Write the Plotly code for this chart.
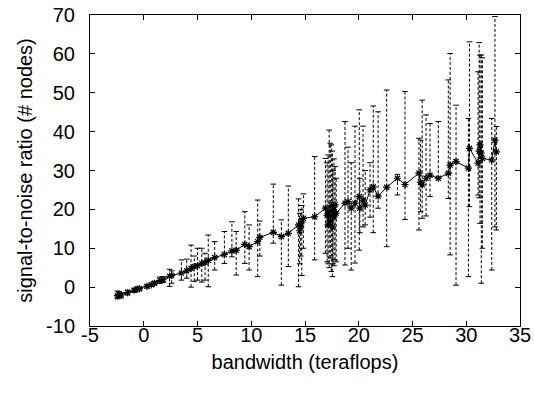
import plotly.graph_objects as go

# bandwidth (teraflops), mean signal-to-noise, lower and upper error bounds
bandwidth = [-2.45, -2.3, -2.1, -1.5, -0.9, -0.6, -0.4, 0.3, 0.7, 1.0, 1.5, 1.8, 2.4, 2.6,
             3.5, 4.0, 4.4, 4.7, 5.0, 5.4, 5.7, 6.0, 6.6, 7.5, 8.2, 8.6, 9.4, 9.8, 10.6, 10.8,
             12.05, 12.8, 13.45, 14.4, 14.5, 14.6, 14.7, 14.85, 15.9, 16.9, 17.05, 17.15, 17.25,
             17.35, 17.45, 17.55, 17.6, 17.7, 17.8, 17.9, 18.72, 19.0, 19.3, 19.65, 20.05, 20.1,
             20.4, 20.6, 21.05, 21.35, 21.8, 22.6, 23.6, 24.3, 25.6, 25.75, 25.9, 26.26, 26.63,
             27.4, 28.33, 28.5, 29.05, 30.2, 30.3, 31.1, 31.2, 31.28, 31.4, 31.5, 32.37, 32.67, 32.8]
snr_mean = [-2.2, -1.9, -2.0, -1.4, -0.8, -0.5, -0.4, 0.2, 0.6, 1.0, 1.7, 1.9, 2.8, 3.0,
            3.6, 4.2, 4.8, 5.3, 5.5, 6.1, 6.3, 6.9, 7.6, 8.4, 9.3, 9.5, 11.0, 10.4, 11.7, 12.8,
            14.1, 13.0, 13.85, 16.0, 14.5, 15.5, 16.8, 17.7, 18.1, 20.3, 18.5, 16.0, 19.5,
            17.0, 21.0, 15.5, 20.5, 18.0, 21.2, 19.0, 21.6, 22.0, 20.3, 21.6, 23.3, 20.3,
            22.4, 21.1, 25.0, 25.8, 23.4, 25.7, 28.0, 26.4, 29.3, 27.0, 26.3, 28.0, 28.8,
            28.0, 29.3, 31.4, 32.3, 30.6, 35.7, 31.9, 35.0, 36.6, 34.5, 33.1, 32.7, 37.8, 34.8]
snr_low = [-3.0, -2.6, -2.8, -2.0, -1.3, -1.0, -0.8, -0.2, 0.2, 0.6, 1.0, 1.2, 0.2, 1.0,
           1.8, 2.3, 0.0, 1.5, 1.8, 1.3, 1.8, 0.1, 4.4, 6.1, 7.8, 3.1, 6.1, 4.4, 2.7, 8.0,
           11.3, 0.5, 5.3, 0.1, 6.0, 8.0, 3.0, 10.0, 7.0, 8.7, 6.5, 6.0, 5.0,
           7.5, 4.0, 2.7, 6.0, 5.5, 7.0, 6.5, 5.7, 10.0, 4.4, 6.2, 9.5, 14.0,
           15.5, 16.0, 18.0, 14.0, 20.3, 10.4, 23.7, 17.4, 14.7, 19.4, 17.7, 18.3, 23.3,
           28.0, 22.8, 8.3, 0.5, 2.7, 20.7, 23.7, 23.0, 16.4, 1.0, 10.0, 4.4, 15.5, 14.7]
snr_high = [-1.0, -1.2, -1.5, -0.8, -0.4, 0.0, 0.0, 0.6, 1.0, 1.5, 2.6, 2.7, 4.6, 4.2,
            7.0, 7.2, 10.8, 8.0, 10.0, 10.0, 8.7, 13.4, 11.7, 14.3, 16.8, 14.3, 19.4, 16.0, 22.4, 17.0,
            26.5, 17.3, 26.0, 22.7, 19.0, 20.0, 21.0, 24.0, 33.6, 33.1, 32.0, 34.0, 40.4,
            37.0, 36.6, 35.0, 30.0, 33.0, 31.0, 28.0, 42.6, 36.0, 32.0, 41.4, 45.6, 28.0,
            41.4, 30.0, 32.0, 46.6, 45.1, 50.7, 29.0, 50.3, 38.3, 37.8, 48.1, 44.3, 42.1,
            42.6, 53.3, 60.1, 46.8, 43.4, 63.1, 55.4, 62.9, 59.7, 59.7, 59.0, 43.4, 69.6, 41.3]

x_ticks = [-5, 0, 5, 10, 15, 20, 25, 30, 35]
y_ticks = [-10, 0, 10, 20, 30, 40, 50, 60, 70]

# error bar segments built from the data
ex, ey = [], []
for xv, lo, hi in zip(bandwidth, snr_low, snr_high):
    ex += [xv, xv, None]
    ey += [lo, hi, None]

fig = go.Figure()
fig.add_trace(go.Scatter(
    x=ex, y=ey, mode="lines+markers",
    line=dict(color="black", width=1, dash="3px,2px"),
    marker=dict(symbol="line-ew", size=4, line=dict(color="black", width=1)),
    hoverinfo="skip", showlegend=False, cliponaxis=False))
fig.add_trace(go.Scatter(
    x=bandwidth, y=snr_mean, mode="lines+markers",
    line=dict(color="black", width=1),
    marker=dict(symbol="asterisk-open", size=6, color="black",
                line=dict(color="black", width=1.2)),
    showlegend=False))

FONT = "Liberation Sans, Arial, sans-serif"
axis_common = dict(
    showgrid=False, zeroline=False, showline=True, linecolor="black", linewidth=1,
    mirror="ticks", ticks="inside", ticklen=5, tickwidth=1, tickcolor="black",
    automargin=False, ticklabeloverflow="allow",
    tickfont=dict(family=FONT, size=20, color="black"),
    title_font=dict(family=FONT, size=20, color="black"),
)
fig.update_xaxes(range=[-5, 35], tickvals=x_ticks, ticktext=[str(v) for v in x_ticks],
                 title_text="bandwidth (teraflops)", title_standoff=9,
                 ticklabelstandoff=-9, **axis_common)
fig.update_yaxes(range=[-10, 70], tickvals=y_ticks, ticktext=[str(v) for v in y_ticks],
                 title_text="signal-to-noise ratio (# nodes)", title_standoff=8,
                 ticklabelstandoff=10, **axis_common)
fig.update_layout(width=534, height=394, margin=dict(l=90, r=14, t=15, b=68),
                  plot_bgcolor="white", paper_bgcolor="white")
# remove the browser's default 8px body margin so the figure fills the window
fig.write_html("out.html", config={"displayModeBar": False},
               post_script="document.body.style.margin='0';")
